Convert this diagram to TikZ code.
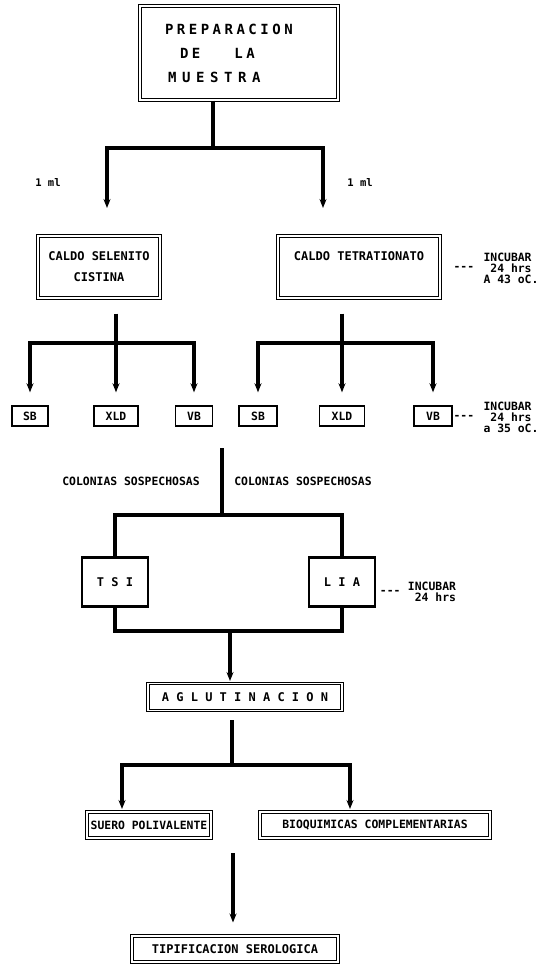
\documentclass[tikz,border=0pt]{standalone}
\usepackage{fontspec}
\setmonofont{DejaVu Sans Mono}
\newfontfamily\dmsp{DejaVu Sans Mono}[LetterSpace=25]
\usetikzlibrary{arrows.meta,positioning}

\tikzset{
  txt/.style={font=\ttfamily\bfseries\fontsize{11.4}{11}\selectfont},
  dbox/.style={txt, draw, double, double distance=1.8pt, line width=1pt, inner sep=0pt, align=center},
  leaf/.style={txt, draw, line width=1.4pt, minimum height=20pt, inner sep=0pt},
  tbox/.style={txt, draw, line width=2.4pt, minimum width=66pt, minimum height=49pt},
  conn/.style={line width=3.8pt},
  arr/.style={conn, -{Stealth[length=9pt,width=7pt]}},
  note/.style={txt, align=left, inner sep=0pt},
}

\begin{document}
\begin{tikzpicture}[x=1pt, y=-1pt]
   \useasboundingbox (0,0) rectangle (548,964);

   \node[dbox, double distance=2.4pt, minimum width=198pt, minimum height=94pt,
         text width=170pt, align=left,
         font=\dmsp\bfseries\fontsize{14}{24}\selectfont] (prep) at (239,53)
         {\hspace*{11pt}PREPARACION\\
          \hspace*{26pt}DE\hspace{34pt}LA\\
          \hspace*{14pt}{\addfontfeature{LetterSpace=40}MUESTRA}};

   \node[dbox, minimum width=122pt, minimum height=62pt,
         font=\ttfamily\bfseries\fontsize{12}{21}\selectfont] (sel) at (99,267)
         {CALDO SELENITO\\CISTINA};
   \node[dbox, minimum width=162pt, minimum height=62pt,
         font=\ttfamily\bfseries\fontsize{12}{21}\selectfont] (tet) at (359,267)
         {CALDO TETRATIONATO\\\phantom{X}};

   \coordinate (j1) at (213,148);
   \coordinate (a1) at (107,236);
   \coordinate (a2) at (323,236);
   \draw[conn] (prep.south -| j1) -- (j1);
   \draw[arr, shorten >=28pt] (j1) -| (a1);
   \draw[arr, shorten >=28pt] (j1) -| (a2);
   \node[txt, font=\ttfamily\bfseries\fontsize{10.5}{11}\selectfont] (ml1) at (48,183) {1 ml};
   \node[txt, font=\ttfamily\bfseries\fontsize{10.5}{11}\selectfont] (ml2) at (360,183) {1 ml};

   \node[note] (inc1) at (511,268) {INCUBAR\\~24 hrs\\A 43 oC.};
   \node[txt, inner sep=0pt, left=9pt of inc1] (d1) {---};

   \foreach \n/\t/\x/\w in {sb1/SB/30/36, xld1/XLD/116/44, vb1/VB/194/37,
                            sb2/SB/258/38, xld2/XLD/342/45, vb2/VB/433/38}
     \node[leaf, minimum width=\w pt] (\n) at (\x,416) {\t};

   \coordinate (j2) at (116,343);
   \coordinate (j3) at (342,343);
   \draw[conn, shorten <=15pt] (sel.south -| j2) -- (j2);
   \draw[conn, shorten <=15pt] (tet.south -| j3) -- (j3);
   \foreach \n in {sb1,xld1,vb1}
     \draw[arr, shorten >=13pt] (j2) -| (\n.north);
   \foreach \n in {sb2,xld2,vb2}
     \draw[arr, shorten >=13pt] (j3) -| (\n.north);

   \node[note] (inc2) at (511,417) {INCUBAR\\~24 hrs\\a 35 oC.};
   \node[txt, inner sep=0pt, left=9pt of inc2] (d2) {---};

   \coordinate (c0) at (222,448);
   \coordinate (j4) at (222,515);
   \node[txt] (col1) at (131,481) {COLONIAS SOSPECHOSAS};
   \node[txt] (col2) at (303,481) {COLONIAS SOSPECHOSAS};

   \node[tbox, font=\ttfamily\bfseries\fontsize{12}{12}\selectfont] (tsi) at (115,582) {T S I};
   \node[tbox, font=\ttfamily\bfseries\fontsize{12}{12}\selectfont] (lia) at (342,582) {L I A};
   \draw[conn] (c0) -- (j4);
   \draw[conn] (j4) -| (tsi.north);
   \draw[conn] (j4) -| (lia.north);

   \node[note] (inc3) at (432,592) {INCUBAR\\~24 hrs};
   \node[txt, inner sep=0pt, left=7pt of inc3] (d3) {---};

   \node[dbox, minimum width=194pt, minimum height=27pt,
         font=\ttfamily\bfseries\fontsize{12}{12}\selectfont] (aglu) at (245,697)
         {A G L U T I N A C I O N};
   \coordinate (j5) at (230,631);
   \draw[conn] (tsi.south) |- (j5) -| (lia.south);
   \draw[arr, shorten >=2pt] (j5) -- (aglu.north -| j5);

   \node[dbox, minimum width=124pt, minimum height=26pt] (suero) at (149,825)
         {SUERO POLIVALENTE};
   \node[dbox, minimum width=230pt, minimum height=26pt] (bioq) at (375,825)
         {BIOQUIMICAS COMPLEMENTARIAS};
   \coordinate (j6) at (232,765);
   \coordinate (s1) at (122,812);
   \coordinate (b1) at (350,812);
   \draw[conn, shorten <=9pt] (aglu.south -| j6) -- (j6);
   \draw[arr, shorten >=3pt] (j6) -| (s1);
   \draw[arr, shorten >=3pt] (j6) -| (b1);

   \node[dbox, minimum width=206pt, minimum height=26pt,
         font=\ttfamily\bfseries\fontsize{12}{12}\selectfont] (tip) at (235,949)
         {TIPIFICACION SEROLOGICA};
   \coordinate (j7) at (233,853);
   \draw[arr, shorten >=13pt] (j7) -- (tip.north -| j7);
\end{tikzpicture}
\end{document}
